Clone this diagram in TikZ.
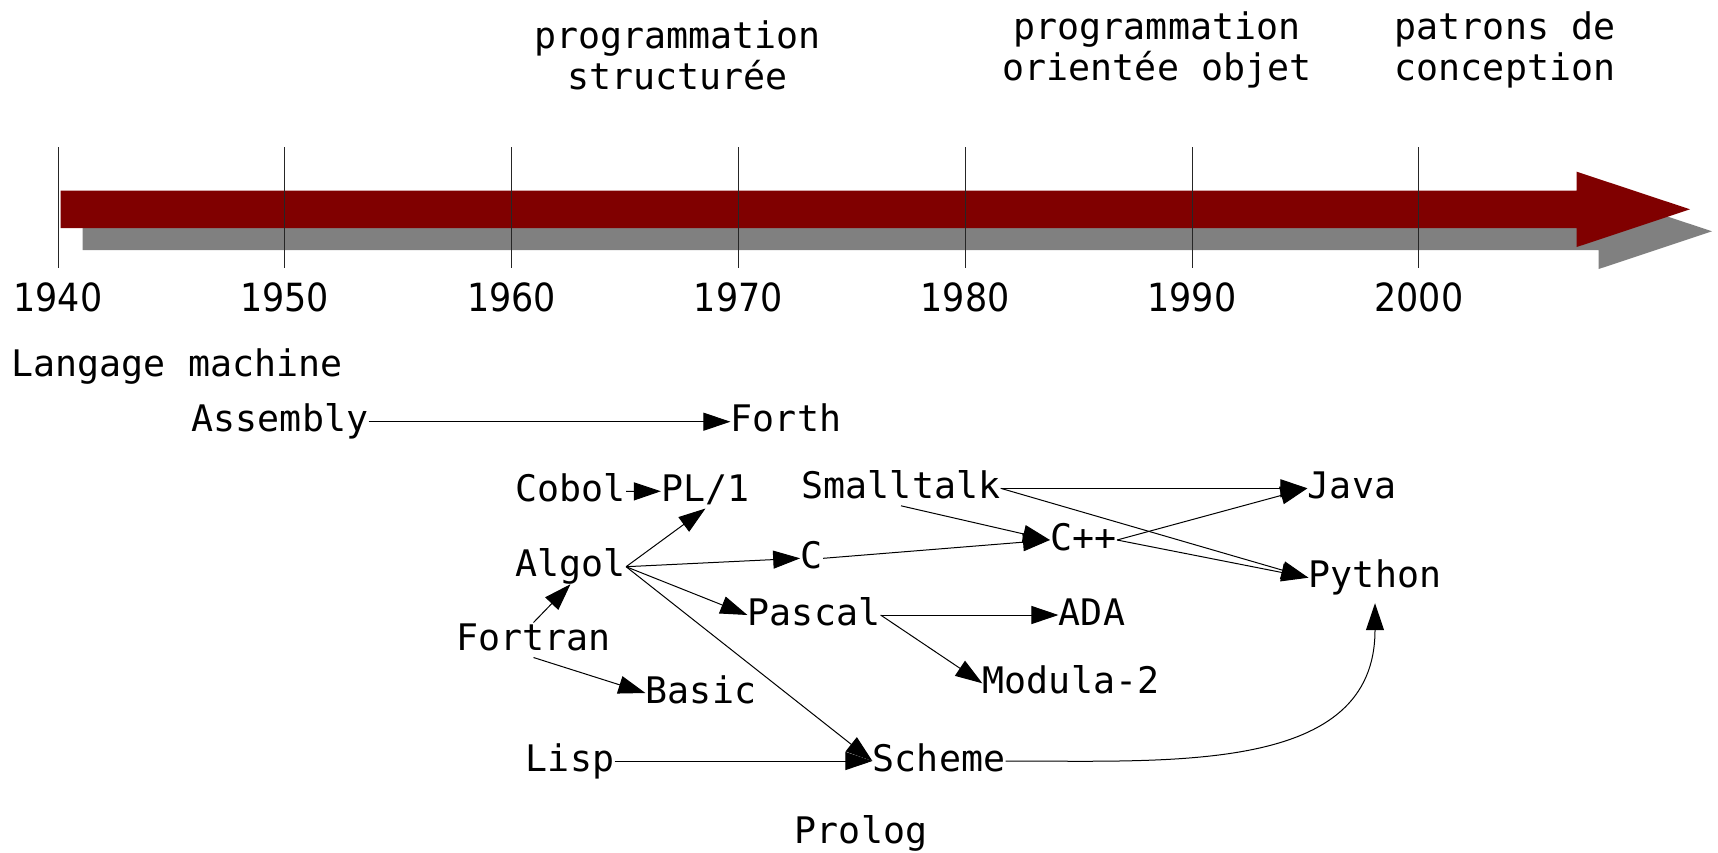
\documentclass[tikz,border=0pt]{standalone}
\usepackage{fontspec}
\setmonofont{DejaVu Sans Mono}
\newfontfamily\yearfont[FakeStretch=0.9]{DejaVu Sans}
\usetikzlibrary{arrows.meta}
\definecolor{barred}{HTML}{800000}
\definecolor{barshadow}{HTML}{808080}

\begin{document}
\begin{tikzpicture}[x=1pt, y=-1pt, line width=1pt,
    lang/.style={font=\ttfamily\fontsize{36.6}{37.5}\selectfont, anchor=base, inner sep=0pt, text height=27pt, text depth=7pt},
    era/.style={font=\ttfamily\fontsize{36.6}{38.5}\selectfont, anchor=base, align=center, inner sep=0pt},
    year/.style={font=\yearfont\fontsize{38.8}{40}\selectfont, anchor=base, inner sep=0pt}]
        \useasboundingbox (0,0) rectangle (1718,852);

        \fill[barshadow, shift={(22,22)}] (60.5,190.7) -- (1576.7,190.7) -- (1576.7,171.7) -- (1690,209.3)
            -- (1576.7,247) -- (1576.7,228) -- (60.5,228) -- cycle;
        \fill[barred] (60.5,190.7) -- (1576.7,190.7) -- (1576.7,171.7) -- (1690,209.3)
            -- (1576.7,247) -- (1576.7,228) -- (60.5,228) -- cycle;
        \foreach \yr [count=\i from 0] in {1940,1950,1960,1970,1980,1990,2000} {
          \draw[black!85] ({58+226.8*\i},147) -- ({58+226.8*\i},268);
          \node[year] (y\i) at ({58+226.8*\i},311.7) {\yr};
        }

        \node[era] (e1) at (677.7,89) {programmation\\[2.5pt]structurée};
        \node[era] (e2) at (1157,80.5) {programmation\\[2.5pt]orientée objet};
        \node[era] (e3) at (1505,80.5) {patrons de\\[2.5pt]conception};

          \node[lang] (1) at (177,376.7) {Langage machine};
          \node[lang] (2) at (280,431.7) {Assembly};
          \node[lang] (3) at (786,431.7) {Forth};
          \node[lang] (4) at (570.5,501.7) {Cobol};
          \node[lang] (5) at (705.5,501) {PL/1};
          \node[lang] (6) at (901,498.3) {Smalltalk};
          \node[lang] (7) at (1352,498.3) {Java};
          \node[lang] (8) at (570.5,576.7) {Algol};
          \node[lang] (9) at (811.7,568.3) {C};
          \node[lang] (10) at (1083.5,550) {C++};
          \node[lang] (11) at (1375,587.7) {Python};
          \node[lang] (12) at (814,625) {Pascal};
          \node[lang] (13) at (1092,625) {ADA};
          \node[lang] (14) at (533.5,650) {Fortran};
          \node[lang] (15) at (1071,693.3) {Modula-2};
          \node[lang] (16) at (701,703) {Basic};
          \node[lang] (17) at (570,771) {Lisp};
          \node[lang] (18) at (939,771) {Scheme};
          \node[lang] (19) at (861,843) {Prolog};

          \path[-{Triangle[length=27pt,width=18pt]}]
            (2) edge (3)
            (4) edge (5)
            (8.east) edge (5.south)
            (8.east) edge (9.west)
            (8.east) edge (12.west)
            (8.east) edge (18.west)
            (14.north) edge (8.south)
            (14.south) edge (16.west)
            (17) edge (18)
            (6.east) edge (7.west)
            (6.south) edge (10.west)
            (6.east) edge (11.west)
            (9.east) edge (10.west)
            (10.east) edge (7.west)
            (10.east) edge (11.west)
            (12.east) edge (13.west)
            (12.east) edge (15.west)
            (18.east) edge[to path={.. controls +(170,0) and +(0,170) .. (\tikztotarget)}] ([yshift=-8pt]11.south);

        \end{tikzpicture}
\end{document}
